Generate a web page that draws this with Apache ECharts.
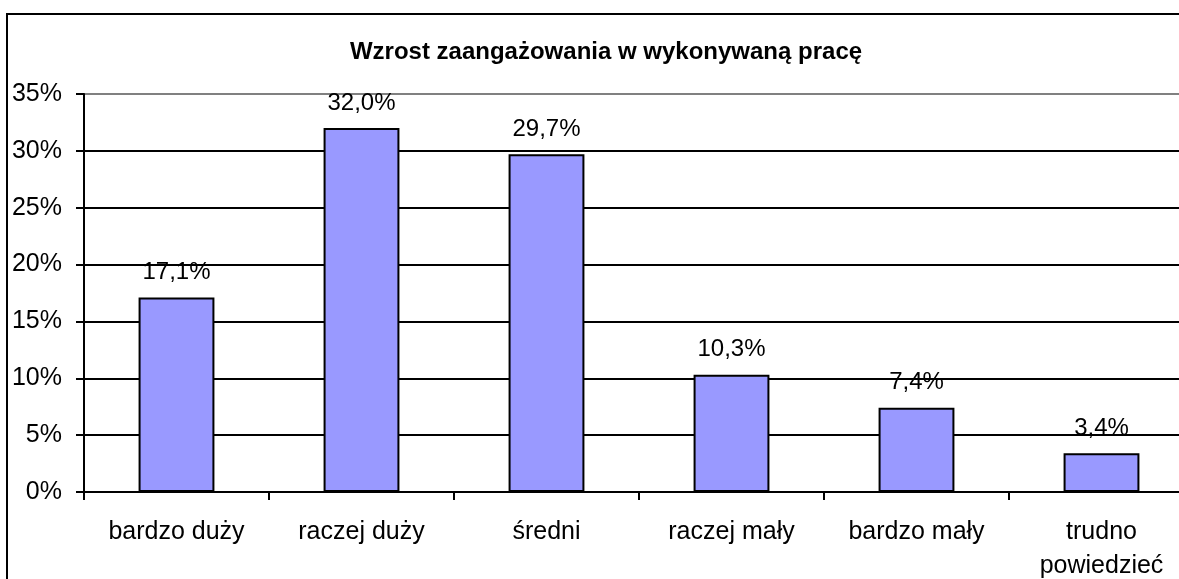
<!DOCTYPE html>
<html>
<head>
	<meta charset="utf-8">
	<title>Wzrost zaangażowania</title>
	<script src="https://cdn.jsdelivr.net/npm/echarts@6/dist/echarts.min.js"></script>
	<style>
	html, body { margin: 0; padding: 0; height: 100%; background: #fff; }
	#main { width: 1179px; height: 579px; }
	</style>
</head>
<body>
<div id="main"></div>
<script>
	var categories = ['bardzo duży', 'raczej duży', 'średni', 'raczej mały', 'bardzo mały', 'trudno\npowiedzieć'];
	var values = [17.1, 32.0, 29.7, 10.3, 7.4, 3.4];
	var titleText = 'Wzrost zaangażowania w wykonywaną pracę';

	var font = 'Liberation Sans, Arial, sans-serif';
	var myChart = echarts.init(document.getElementById('main'));

	// comma as decimal separator, like the original
	function pct(v, digits) {
		return v.toFixed(digits).replace('.', ',') + '%';
	}

	var option = {
		animation: false,
		backgroundColor: '#fff',
		title: {
			text: titleText,
			left: 601,
			top: 35,
			textAlign: 'center',
			textStyle: { fontFamily: font, fontSize: 24, fontWeight: 'bold', color: '#000' }
		},
		graphic: [{
			type: 'rect',
			shape: { x: 7, y: 14, width: 1300, height: 700 },
			style: { fill: null, stroke: '#000', lineWidth: 2 },
			silent: true
		}],
		// plot runs past the right edge, as in the cropped original
		grid: { left: 84, top: 94, width: 1110, height: 398, containLabel: false, outerBoundsMode: 'none' },
		xAxis: {
			type: 'category',
			data: categories,
			axisLine: { lineStyle: { color: '#000', width: 2 } },
			axisTick: { show: true, length: 8, lineStyle: { color: '#000', width: 2 } },
			axisLabel: {
				fontFamily: font, fontSize: 25, color: '#000',
				margin: 23, lineHeight: 34, interval: 0
			}
		},
		yAxis: {
			type: 'value',
			min: 0,
			max: 35,
			interval: 5,
			axisLine: { show: true, lineStyle: { color: '#000', width: 2 } },
			axisTick: { show: true, length: 8, lineStyle: { color: '#000', width: 2 } },
			splitLine: {
				lineStyle: {
					color: ['#000', '#000', '#000', '#000', '#000', '#000', '#000', '#808080'],
					width: 2
				}
			},
			axisLabel: {
				fontFamily: font, fontSize: 25, color: '#000', margin: 22,
				formatter: function (v) { return v + '%'; }
			}
		},
		series: [{
			type: 'bar',
			data: values,
			barWidth: '41%',
			itemStyle: { color: '#9999ff', borderColor: '#000', borderWidth: 2 },
			label: {
				show: true,
				position: 'top',
				distance: 13,
				fontFamily: font,
				fontSize: 24,
				color: '#000',
				formatter: function (p) { return pct(p.value, 1); }
			}
		}]
	};
	myChart.setOption(option);
</script>
</body>
</html>
